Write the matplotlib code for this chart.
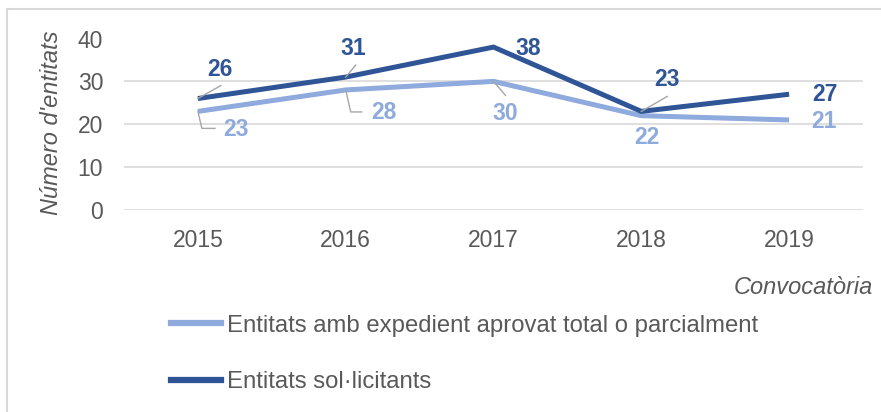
import matplotlib.pyplot as plt
from matplotlib.patches import Rectangle
from matplotlib.transforms import Affine2D

plt.rcParams['font.family'] = ['Liberation Sans', 'DejaVu Sans']

years = ['2015', '2016', '2017', '2018', '2019']
aprovats = [23, 28, 30, 22, 21]
sollicitants = [26, 31, 38, 23, 27]

light = '#8FAADC'
dark = '#2F5597'
grey_txt = '#595959'
grid_c = '#D9D9D9'
leader_c = '#A6A6A6'
fs = 16.5

# label offset (dx, dy) in pixels from the point, plus leader-line bend points
dark_lbl = [(22, 29, [(23, 13)]), (8, 29, [(10, 12)]), (35, -1, None),
            (26, 32, [(26, 15)]), (36, 0, None)]
light_lbl = [(38, -18, [(4, -17), (17, -17)]), (38, -23, [(5, -22), (16, -22)]),
             (12, -32, [(12, -14)]), (6, -22, None), (35, -2, None)]

W, H = 881, 412
fig = plt.figure(figsize=(W / 100, H / 100), dpi=100)
ax = fig.add_axes([124 / W, 1 - 210 / H, (863 - 124) / W, (210 - 38.5) / H])

x = list(range(len(years)))
ax.plot(x, aprovats, color=light, lw=3.6, solid_capstyle='butt', zorder=3)
ax.plot(x, sollicitants, color=dark, lw=3.6, solid_capstyle='butt', zorder=4)

ax.set_xlim(-0.5, 4.5)
ax.set_ylim(0, 40)
ax.set_yticks([0, 10, 20, 30, 40])
ax.set_xticks(x)
ax.set_xticklabels(years)
ax.grid(axis='y', color=grid_c, lw=1.2)
ax.set_axisbelow(True)
for s in ax.spines.values():
    s.set_visible(False)
ax.tick_params(length=0, labelsize=fs, labelcolor=grey_txt)
ax.tick_params(axis='y', pad=15)
ax.tick_params(axis='x', pad=14)


def labels(vals, spec, color):
    for i, (v, (dx, dy, leader)) in enumerate(zip(vals, spec)):
        ax.annotate(str(v), (i, v), xytext=(dx, dy), textcoords='offset pixels',
                    ha='center', va='center', fontsize=fs, fontweight='bold',
                    color=color, zorder=6)
        if leader:
            px, py = ax.transData.transform((i, v))
            pts = [(0, 0)] + leader
            ax.plot([p[0] for p in pts], [p[1] for p in pts], color=leader_c,
                    lw=1, transform=Affine2D().translate(px, py), zorder=5)


labels(sollicitants, dark_lbl, dark)
labels(aprovats, light_lbl, light)

fig.text(52 / W, 1 - 123 / H, "Número d'entitats", rotation=90, ha='center',
         va='center', fontsize=fs + 0.5, style='italic', color=grey_txt)
fig.text(873 / W, 1 - 287 / H, 'Convocatòria', ha='right', va='center',
         fontsize=17, style='italic', color=grey_txt)

h1, = ax.plot([], [], color=light, lw=4.5)
h2, = ax.plot([], [], color=dark, lw=4.5)
fig.legend([h1, h2], ['Entitats amb expedient aprovat total o parcialment',
                      'Entitats sol·licitants'],
           loc='upper left', bbox_to_anchor=(161 / W, 1 - 305 / H), frameon=False,
           fontsize=17.2, labelcolor=grey_txt, handlelength=2.13,
           handletextpad=0.25, labelspacing=1.45, borderaxespad=0)

fig.add_artist(Rectangle((7 / W, -0.1), 1.1, 1.1 - 9 / H, transform=fig.transFigure,
                         fill=False, edgecolor=grid_c, lw=1.5))

fig.savefig('out.png', dpi=100)
